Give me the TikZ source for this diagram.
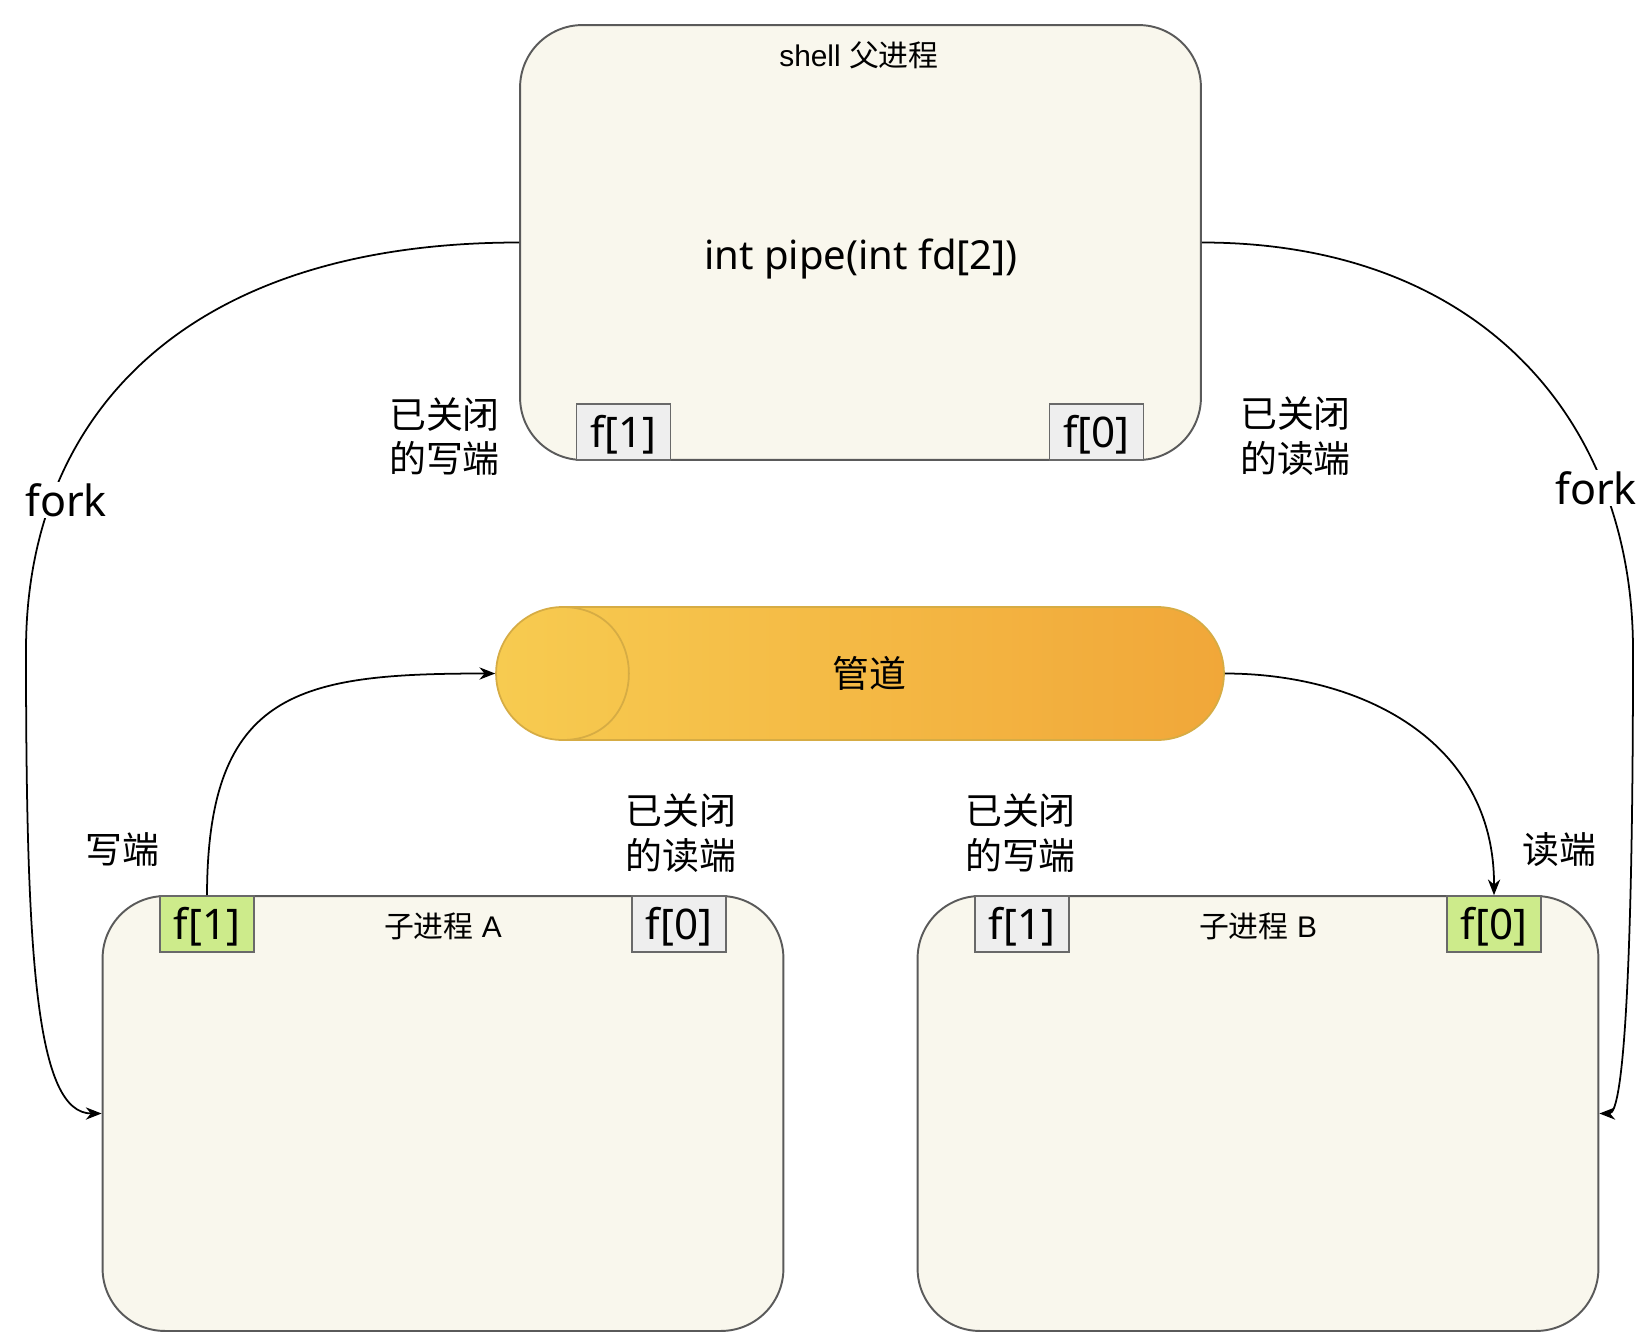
\documentclass[tikz,border=0pt]{standalone}
\usepackage{fontspec}
\setmainfont{Liberation Sans}
\newfontfamily\cjk{Noto Sans CJK SC}
\newfontfamily\hand{Noto Sans}
\usetikzlibrary{arrows.meta,shapes.misc}
\definecolor{boxfill}{RGB}{249,247,237}
\definecolor{boxline}{RGB}{90,90,90}
\definecolor{fdgray}{RGB}{238,238,238}
\definecolor{fdgreen}{RGB}{205,235,139}
\definecolor{fdline}{RGB}{105,105,105}
\definecolor{pipeL}{RGB}{247,203,80}
\definecolor{pipeR}{RGB}{241,167,57}
\definecolor{pipeedge}{RGB}{214,172,68}
\begin{document}
\begin{tikzpicture}[x=0.02cm, y=-0.02cm,
    proc/.style={draw=boxline, fill=boxfill, line width=1.1pt, rounded corners=1.25cm,
        minimum width=13.62cm, minimum height=8.7cm, inner sep=0pt},
    fd/.style={draw=fdline, line width=0.9pt, minimum width=1.88cm, minimum height=1.12cm,
        inner sep=0pt, text height=20pt, text depth=2pt, font=\hand\fontsize{24}{28}\selectfont},
    note/.style={font=\cjk\fontsize{21}{25.5}\selectfont, align=center, inner sep=0pt},
    title/.style={font=\fontsize{17}{20}\selectfont, inner sep=0pt},
    forklabel/.style={font=\hand\fontsize{24.5}{28}\selectfont, fill=white, inner sep=1pt},
    link/.style={line width=1pt, -{Stealth[length=9pt, width=7pt]}}]
    \useasboundingbox (0,0) rectangle (1650,1342);
    \node[proc] (parent) at (860.5,242.5) {};
    \node[title] (parenttitle) at (859,55) {shell {\cjk 父进程}};
    \node[font=\hand\fontsize{22.8}{27}\selectfont] (pipecall) at (861,259) {int pipe(int fd[2])};
    \node[fd, fill=fdgray] (f1P) at (623.5,432) {f[1]};
    \node[fd, fill=fdgray] (f0P) at (1096.5,432) {f[0]};
    \foreach \n/\x/\ca/\cb in {A/443/fdgreen/fdgray, B/1258/fdgray/fdgreen} {
        \node[proc] (child\n) at (\x,1113.5) {};
        \node[fd, fill=\ca] (f1\n) at (\x-236,924) {f[1]};
        \node[fd, fill=\cb] (f0\n) at (\x+236,924) {f[0]};
        \node[title] (title\n) at (\x,926) {{\cjk 子进程} \n};
    }
    \node[rounded rectangle, draw=pipeedge, left color=pipeL, right color=pipeR, line width=1pt,
        minimum width=14.56cm, minimum height=2.66cm, inner sep=0pt,
        font=\cjk\fontsize{21}{25.5}\selectfont] (pipe) at (860,673.5) {\hspace{10.8pt}管道};
    \draw[pipeedge, line width=1pt] (562.5,607) .. controls (651,607) and (651,740) .. (562.5,740);
    \node[note] (closedWP) at (444.5,436.5) {已关闭\\的写端};
    \node[note] (closedRP) at (1295.5,436.5) {已关闭\\的读端};
    \node[note] (writeA) at (122,850) {写端};
    \node[note] (closedRA) at (681,833) {已关闭\\的读端};
    \node[note] (closedWB) at (1020.5,833) {已关闭\\的写端};
    \node[note] (readB) at (1559.5,850) {读端};
    \draw[link] (f1A.north) .. controls (207.5,690) and (300,673.5) .. (pipe.west);
    \draw[link] (pipe.east) .. controls (1360,673.5) and (1494.5,740) .. (f0B.north);
    \draw[link] (parent.west) .. controls (180,242.5) and (26,420) .. (26,650)
        .. controls (26,960) and (36,1113.5) .. (childA.west);
    \draw[link] (parent.east) .. controls (1480,242.5) and (1633,420) .. (1633,650)
        .. controls (1633,960) and (1624,1113.5) .. (childB.east);
    \node[forklabel] (forkL) at (66,500) {fork};
    \node[forklabel] (forkR) at (1596,488) {fork};
\end{tikzpicture}
\end{document}
